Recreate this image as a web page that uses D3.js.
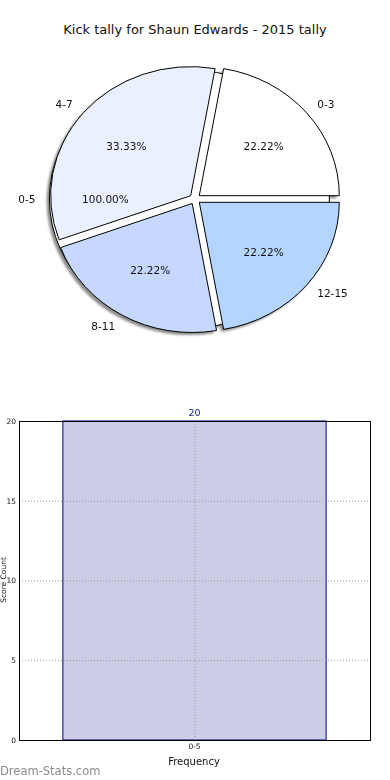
<!DOCTYPE html>
<html>
<head>
<meta charset="utf-8">
<script src="https://cdn.jsdelivr.net/npm/d3@7"></script>
<style>
  body { margin: 0; background: #fff; }
  svg { display: block; font-family: "DejaVu Sans", sans-serif; }
</style>
</head>
<body>
<svg id="chart" width="390" height="780"></svg>
<script>
// pie data
const titleText = 'Kick tally for Shaun Edwards - 2015 tally';
const pieLabels = ['0-3', '4-7', '8-11', '12-15'];
const pieValues = [2, 3, 2, 2];
const pieColors = ['#ffffff', '#eaf0ff', '#c6d8ff', '#b3d5ff'];
const baseLabel = '0-5';
const baseValue = [20];
const baseColor = '#ffffff';

// bar data
const barCategories = ['0-5'];
const barValues = [20];
const yTicks = [0, 5, 10, 15, 20];

const svg = d3.select('#chart');
const fmt = v => d3.format('.2f')(v) + '%';

svg.append('text')
  .attr('x', 195).attr('y', 34)
  .attr('text-anchor', 'middle')
  .attr('font-size', 13)
  .attr('fill', '#111')
  .text(titleText);

// ---- pie (elliptical, like an un-squared matplotlib axes) ----
const cx = 195, cy = 199, rx = 140, ry = 129, explode = 0.04;

const defs = svg.append('defs');
defs.append('filter').attr('id', 'blur')
  .append('feGaussianBlur').attr('stdDeviation', 0.8);

const unitArc = d3.arc().innerRadius(0).outerRadius(1);
const mid = d => (d.startAngle + d.endAngle) / 2;
// d3 angle -> screen offset on ellipse
const px = (a, k) => k * rx * Math.sin(a);
const py = (a, k) => -k * ry * Math.cos(a);

// counter-clockwise from 3 o'clock
const pie = d3.pie().sort(null).startAngle(Math.PI / 2).endAngle(Math.PI / 2 - 2 * Math.PI);
const slices = pie(pieValues).map((d, i) => ({ ...d, label: pieLabels[i], color: pieColors[i], total: d3.sum(pieValues) }));
const base = pie(baseValue).map(d => ({ ...d, label: baseLabel, color: baseColor, total: d3.sum(baseValue) }));
// full circle: mid-angle is 9 o'clock
base.forEach(d => { d.mid = Math.PI / 2 - Math.PI; });
slices.forEach(d => { d.mid = mid(d); });
const all = base.concat(slices);
all.forEach(d => {
  d.ox = cx + px(d.mid, explode);
  d.oy = cy + py(d.mid, explode);
});

const pieG = svg.append('g');
// shadows behind everything
pieG.append('g')
  .attr('filter', 'url(#blur)')
  .attr('opacity', 0.55)
  .selectAll('path').data(all).join('path')
  .attr('d', unitArc)
  .attr('transform', d => `translate(${d.ox - 2.8},${d.oy + 2.6}) scale(${rx},${ry})`)
  .attr('fill', '#333');

pieG.selectAll('path.wedge').data(all).join('path')
  .attr('class', 'wedge')
  .attr('d', unitArc)
  .attr('transform', d => `translate(${d.ox},${d.oy}) scale(${rx},${ry})`)
  .attr('fill', d => d.color)
  .attr('stroke', '#000')
  .attr('stroke-width', 1)
  .attr('vector-effect', 'non-scaling-stroke');

pieG.selectAll('text.lab').data(all).join('text')
  .attr('class', 'lab')
  .attr('x', d => d.ox + px(d.mid, 1.1))
  .attr('y', d => d.oy + py(d.mid, 1.1))
  .attr('dy', '0.35em')
  .attr('text-anchor', d => Math.sin(d.mid) >= 0 ? 'start' : 'end')
  .attr('font-size', 10.5)
  .attr('fill', '#111')
  .text(d => d.label);

pieG.selectAll('text.pct').data(all).join('text')
  .attr('class', 'pct')
  .attr('x', d => d.ox + px(d.mid, 0.6))
  .attr('y', d => d.oy + py(d.mid, 0.6))
  .attr('dy', '0.35em')
  .attr('text-anchor', 'middle')
  .attr('font-size', 10.5)
  .attr('fill', '#111')
  .text(d => fmt(d.value / d.total * 100));

// ---- bar chart ----
const m = { left: 19, right: 370, top: 421, bottom: 740 };
const x = d3.scaleBand().domain(barCategories).range([m.left, m.right])
  .paddingInner(0.25).paddingOuter(0.125);
const y = d3.scaleLinear().domain([0, 20]).range([m.bottom, m.top]);

const barG = svg.append('g');

barG.selectAll('rect.bar').data(barValues).join('rect')
  .attr('class', 'bar')
  .attr('x', (d, i) => x(barCategories[i]))
  .attr('y', d => y(d))
  .attr('width', x.bandwidth())
  .attr('height', d => y(0) - y(d))
  .attr('fill', '#ccccE6')
  .attr('stroke', '#00008b')
  .attr('stroke-width', 1);

// grid
barG.append('g').selectAll('line').data(yTicks.slice(1, -1)).join('line')
  .attr('x1', m.left).attr('x2', m.right)
  .attr('y1', d => y(d) + 0.5).attr('y2', d => y(d) + 0.5)
  .attr('stroke', '#999').attr('stroke-dasharray', '1,2').attr('stroke-width', 1);
barG.append('g').selectAll('line').data(barCategories).join('line')
  .attr('x1', d => x(d) + x.bandwidth() / 2 + 0.5).attr('x2', d => x(d) + x.bandwidth() / 2 + 0.5)
  .attr('y1', m.top).attr('y2', m.bottom)
  .attr('stroke', '#999').attr('stroke-dasharray', '1,2').attr('stroke-width', 1);

// frame
barG.append('rect')
  .attr('x', m.left + 0.5).attr('y', m.top + 0.5)
  .attr('width', m.right - m.left).attr('height', m.bottom - m.top)
  .attr('fill', 'none').attr('stroke', '#000').attr('stroke-width', 1);

// axes
const yAxis = d3.axisLeft(y).tickValues(yTicks).tickSize(0).tickPadding(3);
barG.append('g').attr('transform', `translate(${m.left},0)`).call(yAxis)
  .call(g => g.select('.domain').remove())
  .call(g => g.selectAll('text').attr('font-size', 7.5).attr('font-family', 'DejaVu Sans').attr('fill', '#111'));

const xAxis = d3.axisBottom(x).tickSize(0).tickPadding(4);
barG.append('g').attr('transform', `translate(0,${m.bottom})`).call(xAxis)
  .call(g => g.select('.domain').remove())
  .call(g => g.selectAll('text').attr('font-size', 7.5).attr('font-family', 'DejaVu Sans').attr('fill', '#111'));

// value labels
barG.selectAll('text.val').data(barValues).join('text')
  .attr('class', 'val')
  .attr('x', (d, i) => x(barCategories[i]) + x.bandwidth() / 2)
  .attr('y', d => y(d) - 5)
  .attr('text-anchor', 'middle')
  .attr('font-size', 9.5)
  .attr('fill', '#1a237e')
  .text(d => d);

svg.append('text')
  .attr('x', 194).attr('y', 765)
  .attr('text-anchor', 'middle')
  .attr('font-size', 10)
  .attr('fill', '#111')
  .text('Frequency');

svg.append('text')
  .attr('transform', 'translate(6,580) rotate(-90)')
  .attr('text-anchor', 'middle')
  .attr('font-size', 7.5)
  .attr('fill', '#111')
  .text('Score Count');

svg.append('text')
  .attr('x', 0).attr('y', 775)
  .attr('font-size', 11.5)
  .attr('fill', '#8a8a8a')
  .text('Dream-Stats.com');
</script>
</body>
</html>
